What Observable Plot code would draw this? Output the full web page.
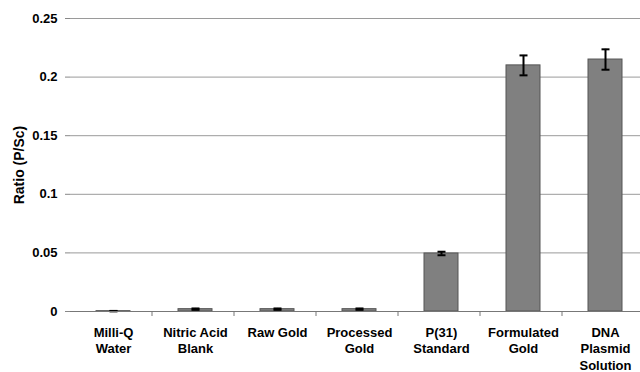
<!DOCTYPE html>
<html><head><meta charset="utf-8">
<script src="https://cdn.jsdelivr.net/npm/d3@7"></script>
<script src="https://cdn.jsdelivr.net/npm/@observablehq/plot@0.6"></script>
<style>
html,body{margin:0;padding:0;background:#fff;}
svg{display:block;}
</style>
</head><body>
<div id="chart"></div>
<script>
const categories = ["Milli-Q\nWater", "Nitric Acid\nBlank", "Raw Gold", "Processed\nGold", "P(31)\nStandard", "Formulated\nGold", "DNA\nPlasmid\nSolution"];
const ratios = [0.0003, 0.002, 0.002, 0.002, 0.0495, 0.21, 0.215];
const errors = [0.0002, 0.0006, 0.0006, 0.0006, 0.0015, 0.0085, 0.0087];
const yTicks = [0, 0.05, 0.1, 0.15, 0.2, 0.25];

const data = categories.map((c, i) => ({cat: c, v: ratios[i], lo: ratios[i] - errors[i], hi: ratios[i] + errors[i]}));
const font = "'Liberation Sans', Arial, sans-serif";

// horizontal cap symbol for error bars
const capSymbol = {draw(ctx) { ctx.moveTo(-4, 0); ctx.lineTo(4, 0); }};

const plot = Plot.plot({
  width: 640,
  height: 372,
  marginTop: 18,
  marginBottom: 61,
  marginLeft: 70,
  marginRight: 0,
  style: {fontFamily: font, fontSize: "13px", fontWeight: "bold", color: "#000", background: "#fff"},
  x: {domain: categories, range: [70, 648], paddingInner: 0.59, paddingOuter: 0.295, label: null},
  y: {domain: [0, 0.25], label: null},
  marks: [
    Plot.ruleY(yTicks, {stroke: "#9a9a9a", strokeWidth: 1}),
    Plot.axisY({ticks: yTicks, tickFormat: d => String(d), tickSize: 5, tickPadding: 8, stroke: "#888", fontSize: 13, fontWeight: "bold", fill: "#000"}),
    Plot.ruleX([0], {x: () => null, stroke: "#888"}),
    Plot.axisX({tickSize: 0, tickPadding: 13, fontSize: 13, fontWeight: "bold", fill: "#000", lineHeight: 1.3}),
    Plot.barY(data, {x: "cat", y: "v", fill: "#808080", stroke: "#555", strokeWidth: 1}),
    Plot.ruleX(data, {x: "cat", y1: "lo", y2: "hi", stroke: "#000", strokeWidth: 2}),
    Plot.dot(data, {x: "cat", y: "hi", symbol: capSymbol, stroke: "#000", strokeWidth: 2, fill: "none"}),
    Plot.dot(data, {x: "cat", y: "lo", symbol: capSymbol, stroke: "#000", strokeWidth: 2, fill: "none"}),
    Plot.ruleY([0], {stroke: "#777", strokeWidth: 1}),
    Plot.text(["Ratio (P/Sc)"], {frameAnchor: "left", textAnchor: "middle", dx: -51, rotate: -90, fontSize: 14, fontWeight: "bold", fill: "#000"})
  ]
});

// category boundary ticks below the x axis, from Plot's x scale
const xs = plot.scale("x");
const ys = plot.scale("y");
const y0 = ys.apply(0);
const svg = d3.select(plot);
const g = svg.append("g").attr("stroke", "#777");
for (let i = 1; i < categories.length; i++) {
  const bx = xs.range[0] + i * xs.step;
  g.append("line").attr("x1", bx).attr("x2", bx).attr("y1", y0).attr("y2", y0 + 5);
}
document.getElementById("chart").appendChild(plot);
</script>
</body></html>
